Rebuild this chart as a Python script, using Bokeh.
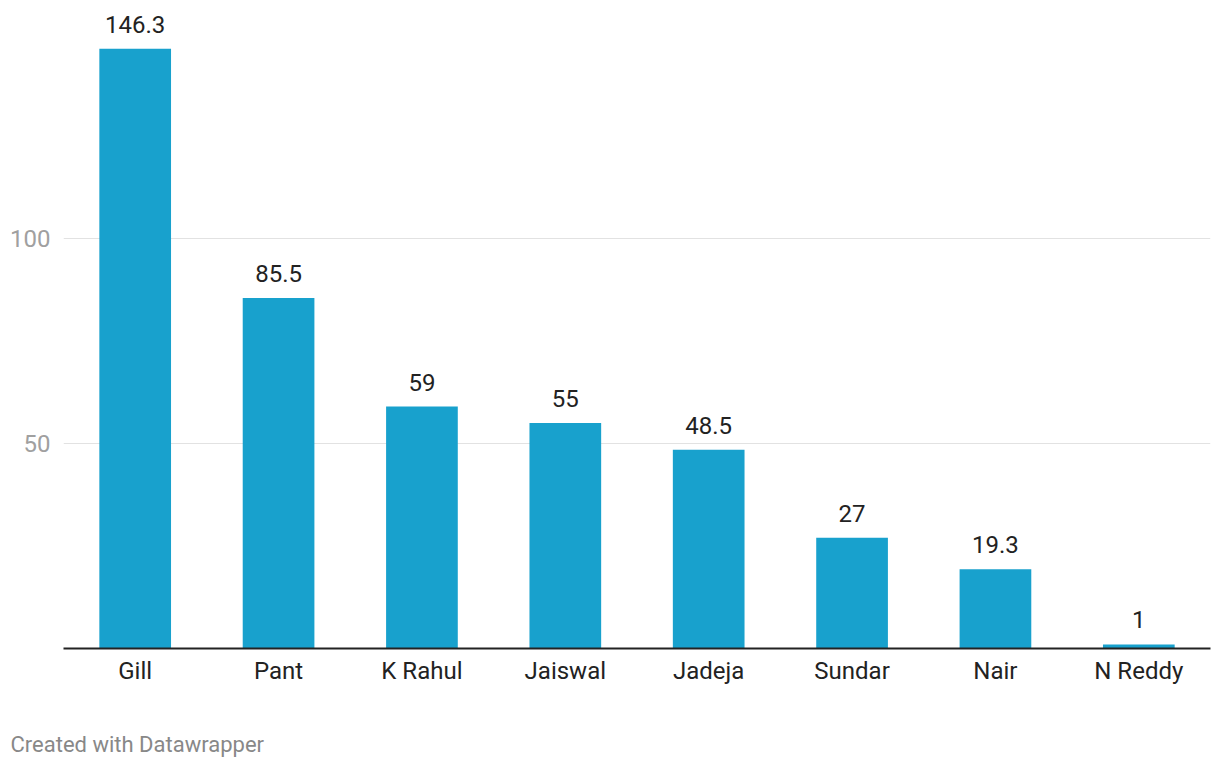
from bokeh.plotting import figure
from bokeh.models import ColumnDataSource, FixedTicker, Title, Range1d
from bokeh.embed import file_html
from bokeh.resources import INLINE
from bokeh.core.properties import value

players = ["Gill", "Pant", "K Rahul", "Jaiswal", "Jadeja", "Sundar", "Nair", "N Reddy"]
averages = [146.3, 85.5, 59, 55, 48.5, 27, 19.3, 1]
labels = ["146.3", "85.5", "59", "55", "48.5", "27", "19.3", "1"]
y_ticks = [50, 100]

src = ColumnDataSource(dict(x=players, y=averages, lab=labels))

p = figure(x_range=players, y_range=Range1d(0, 156.1), width=1212, height=760,
           output_backend="svg", toolbar_location=None,
           min_border_left=63, min_border_right=2, min_border_top=8, min_border_bottom=112)
p.x_range.range_padding = 0
p.outline_line_color = None
p.background_fill_color = "white"
p.border_fill_color = "white"

p.vbar(x="x", top="y", width=0.5, source=src, fill_color="#18a1cd", line_color=None)
p.text(x="x", y="y", text="lab", source=src, text_align="center", text_baseline="bottom",
       y_offset=-16, text_font=value("Roboto"), text_font_size="24px", text_color="#222222")

p.xgrid.grid_line_color = None
p.ygrid.ticker = FixedTicker(ticks=y_ticks)
p.ygrid.grid_line_color = "#e2e2e2"
p.ygrid.grid_line_width = 1

p.yaxis.ticker = FixedTicker(ticks=y_ticks)
p.yaxis.axis_line_color = None
p.yaxis.major_tick_line_color = None
p.yaxis.minor_tick_line_color = None
p.yaxis.major_label_text_font = "Roboto"
p.yaxis.major_label_text_font_size = "24px"
p.yaxis.major_label_text_color = "#a0a0a0"
p.yaxis.major_label_standoff = 7

p.xaxis.axis_line_color = "#222222"
p.xaxis.axis_line_width = 2
p.xaxis.major_tick_line_color = None
p.xaxis.minor_tick_line_color = None
p.xaxis.major_label_text_font = "Roboto"
p.xaxis.major_label_text_font_size = "24px"
p.xaxis.major_label_text_color = "#222222"
p.xaxis.major_label_standoff = 2

spacer = Title(text="\u00a0", standoff=15, text_font="Roboto", text_font_size="22px",
               text_font_style="normal", text_color="white")
p.add_layout(spacer, "below")

footer = Title(text="Created with Datawrapper", align="left", offset=-53, standoff=0,
               text_font="Roboto", text_font_size="22px", text_font_style="normal",
               text_color="#888888")
p.add_layout(footer, "below")

open("out.html", "w").write(file_html(p, INLINE))
